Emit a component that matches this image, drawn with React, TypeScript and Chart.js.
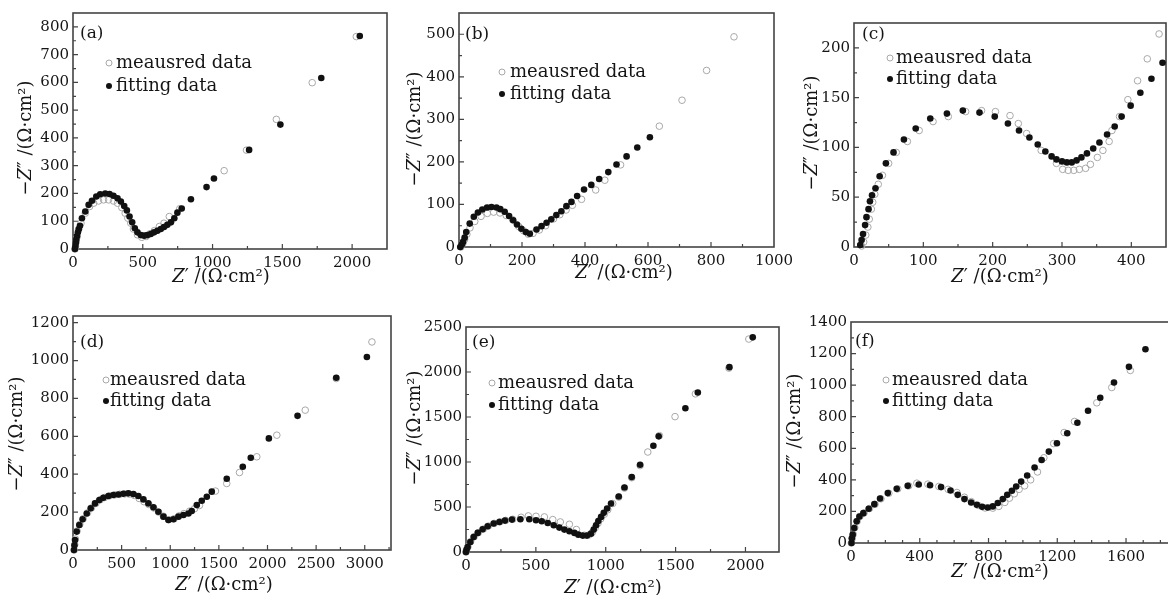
import React, { useEffect, useRef } from 'react';
import { Chart, registerables } from 'chart.js';
Chart.register(...registerables);

// ---------- data (Z' , -Z'') ----------
const aFitX = [14, 17, 20, 24, 29, 35, 42, 50, 64, 88, 112, 136, 167, 195, 231, 262, 290, 319, 343, 367, 386, 405, 424, 443, 462, 486, 510, 533, 557, 581, 605, 629, 652, 676, 702, 726, 748, 779, 845, 957, 1010, 1262, 1486, 1779, 2055];
const aFitY = [0, 10, 22, 34, 47, 60, 72, 84, 111, 135, 159, 174, 189, 197, 200, 198, 192, 183, 171, 155, 139, 117, 96, 75, 60, 50, 48, 50, 54, 60, 66, 72, 79, 87, 96, 111, 131, 146, 179, 223, 254, 357, 448, 616, 767];
const aMeasX = [14, 18, 23, 30, 40, 57, 88, 119, 148, 183, 219, 255, 290, 319, 350, 374, 393, 414, 433, 462, 493, 524, 552, 583, 619, 652, 690, 765, 1083, 1243, 1457, 1714, 2030];
const aMeasY = [0, 10, 25, 45, 70, 93, 129, 153, 165, 173, 177, 177, 173, 165, 149, 129, 111, 93, 72, 51, 42, 45, 55, 66, 81, 93, 117, 145, 282, 356, 467, 599, 765];

const bFitX = [4, 9, 13, 18, 23, 34, 47, 60, 74, 89, 103, 119, 131, 145, 159, 172, 184, 198, 212, 225, 246, 262, 278, 293, 309, 325, 341, 357, 375, 397, 420, 445, 474, 500, 532, 566, 606];
const bFitY = [0, 6, 12, 22, 35, 55, 71, 81, 88, 93, 94, 93, 89, 83, 73, 63, 53, 43, 35, 31, 41, 49, 57, 65, 75, 84, 96, 106, 120, 135, 146, 160, 176, 194, 213, 234, 258];
const bMeasX = [6, 12, 18, 25, 35, 50, 70, 90, 110, 130, 150, 170, 190, 205, 220, 235, 255, 275, 300, 320, 340, 360, 389, 434, 463, 513, 636, 708, 786, 873];
const bMeasY = [0, 8, 18, 30, 45, 60, 72, 79, 82, 80, 74, 64, 48, 38, 30, 32, 40, 50, 66, 76, 87, 98, 112, 134, 157, 193, 284, 345, 415, 494];

const cFitX = [9, 11, 13, 16, 18, 21, 23, 26, 31, 37, 46, 57, 72, 89, 110, 134, 157, 181, 203, 222, 238, 253, 265, 276, 285, 292, 300, 307, 314, 321, 328, 336, 345, 354, 365, 376, 386, 399, 413, 429, 445];
const cFitY = [2, 7, 13, 22, 30, 38, 46, 52, 59, 71, 84, 95, 108, 119, 129, 134, 137, 135, 131, 124, 117, 110, 103, 96, 91, 88, 86, 85, 85, 87, 90, 94, 99, 105, 113, 121, 131, 142, 155, 169, 185];
const cMeasX = [11, 14, 17, 20, 22, 25, 27, 30, 35, 41, 50, 61, 77, 94, 114, 136, 161, 184, 204, 225, 237, 249, 270, 292, 301, 309, 317, 325, 334, 341, 351, 359, 368, 372, 383, 395, 409, 423, 440];
const cMeasY = [1, 5, 12, 20, 28, 38, 45, 53, 63, 72, 84, 95, 106, 117, 126, 131, 136, 137, 136, 132, 124, 114, 97, 84, 78, 77, 77, 78, 79, 83, 90, 97, 106, 117, 131, 148, 167, 189, 214];

const dFitX = [10, 15, 21, 38, 65, 99, 141, 182, 226, 271, 312, 364, 415, 467, 518, 569, 621, 672, 724, 775, 827, 878, 930, 981, 1033, 1084, 1136, 1187, 1221, 1273, 1324, 1376, 1427, 1581, 1746, 1828, 2014, 2309, 2707, 3022];
const dFitY = [0, 25, 53, 97, 132, 162, 193, 220, 246, 264, 276, 285, 290, 293, 297, 299, 295, 285, 267, 246, 225, 202, 176, 158, 162, 176, 185, 193, 206, 237, 260, 281, 308, 376, 439, 487, 589, 708, 909, 1019];
const dMeasX = [12, 18, 25, 42, 70, 105, 150, 190, 235, 280, 325, 375, 430, 480, 530, 580, 630, 680, 730, 780, 830, 880, 930, 985, 1040, 1090, 1140, 1200, 1250, 1300, 1465, 1581, 1712, 1890, 2096, 2388, 2707, 3074];
const dMeasY = [0, 28, 58, 100, 135, 165, 196, 222, 246, 265, 277, 286, 291, 294, 296, 295, 288, 272, 255, 240, 222, 200, 178, 160, 165, 180, 192, 205, 218, 235, 311, 351, 409, 492, 606, 738, 905, 1098];

const eFitX = [0, 4, 12, 31, 55, 84, 119, 155, 198, 239, 279, 329, 389, 453, 501, 542, 585, 628, 668, 704, 740, 776, 804, 835, 866, 895, 914, 931, 947, 967, 986, 1010, 1038, 1093, 1134, 1186, 1246, 1341, 1379, 1570, 1659, 1885, 2052];
const eFitY = [0, 25, 56, 111, 167, 212, 253, 286, 316, 334, 349, 360, 364, 364, 353, 342, 323, 297, 271, 249, 230, 212, 193, 182, 182, 204, 249, 297, 345, 390, 435, 483, 539, 617, 717, 832, 970, 1181, 1285, 1597, 1772, 2054, 2385];
const eMeasX = [0, 5, 14, 33, 58, 88, 124, 160, 202, 243, 284, 335, 394, 446, 501, 561, 621, 675, 740, 790, 847, 880, 905, 925, 945, 965, 990, 1015, 1050, 1093, 1134, 1186, 1246, 1301, 1384, 1496, 1642, 1881, 2024];
const eMeasY = [0, 27, 58, 115, 170, 215, 255, 288, 318, 336, 351, 364, 386, 401, 397, 390, 360, 334, 308, 250, 186, 190, 220, 270, 320, 370, 420, 470, 539, 610, 710, 825, 960, 1111, 1293, 1504, 1757, 2043, 2366];

const fFitX = [3, 5, 10, 19, 33, 49, 72, 103, 136, 169, 214, 266, 330, 394, 460, 524, 579, 621, 660, 699, 732, 763, 796, 825, 854, 883, 909, 936, 961, 990, 1025, 1068, 1109, 1151, 1198, 1258, 1317, 1379, 1450, 1530, 1617, 1713];
const fFitY = [0, 30, 53, 95, 137, 168, 189, 217, 246, 282, 316, 343, 362, 371, 366, 354, 333, 305, 278, 257, 242, 229, 225, 232, 253, 278, 305, 331, 358, 389, 428, 478, 526, 579, 632, 695, 762, 838, 920, 1017, 1116, 1227];
const fMeasX = [2, 7, 13, 22, 36, 52, 76, 107, 140, 174, 220, 272, 336, 383, 447, 511, 565, 616, 660, 700, 740, 780, 825, 860, 895, 922, 950, 978, 1010, 1045, 1085, 1122, 1179, 1240, 1300, 1430, 1517, 1625];
const fMeasY = [0, 28, 55, 97, 138, 168, 190, 218, 245, 280, 315, 343, 362, 379, 373, 358, 340, 320, 290, 262, 238, 222, 221, 232, 257, 284, 312, 340, 362, 400, 450, 540, 630, 700, 770, 888, 985, 1093];

// ---------- tick labels ----------
const aXTicks = [0, 500, 1000, 1500, 2000];
const aYTicks = [0, 100, 200, 300, 400, 500, 600, 700, 800];
const bXTicks = [0, 200, 400, 600, 800, 1000];
const bYTicks = [0, 100, 200, 300, 400, 500];
const cXTicks = [0, 100, 200, 300, 400];
const cYTicks = [0, 50, 100, 150, 200];
const dXTicks = [0, 500, 1000, 1500, 2000, 2500, 3000];
const dYTicks = [0, 200, 400, 600, 800, 1000, 1200];
const eXTicks = [0, 500, 1000, 1500, 2000];
const eYTicks = [0, 500, 1000, 1500, 2000, 2500];
const fXTicks = [0, 400, 800, 1200, 1600];
const fYTicks = [0, 200, 400, 600, 800, 1000, 1200, 1400];

const legendMeasured = 'meausred data';
const legendFitting = 'fitting data';

const FONT = '"DejaVu Serif", "Liberation Serif", serif';
const PAD_L = 70, PAD_T = 15, PAD_R = 30, PAD_B = 48;

type Cfg = {
  letter: string; l: number; t: number; r: number; b: number;
  xMax: number; yMax: number; xTicks: number[]; yTicks: number[];
  xMinor: number; yMinor: number;
  fitX: number[]; fitY: number[]; measX: number[]; measY: number[];
  lp: [number, number]; mx: number; tx: number; rows: [number, number];
  xt: [number, number]; yt: [number, number];
};

const panels: Cfg[] = [
  { letter: '(a)', l: 73, t: 13, r: 387, b: 249, xMax: 2250, yMax: 850, xTicks: aXTicks, yTicks: aYTicks, xMinor: 250, yMinor: 50,
    fitX: aFitX, fitY: aFitY, measX: aMeasX, measY: aMeasY, lp: [7, 21], mx: 36, tx: 43, rows: [50, 73], xt: [148, 28], yt: [-47, 125] },
  { letter: '(b)', l: 459, t: 13, r: 774, b: 247, xMax: 1000, yMax: 550, xTicks: bXTicks, yTicks: bYTicks, xMinor: 100, yMinor: 50,
    fitX: bFitX, fitY: bFitY, measX: bMeasX, measY: bMeasY, lp: [6, 22], mx: 43, tx: 51, rows: [59, 81], xt: [165, 26], yt: [-44, 116] },
  { letter: '(c)', l: 854, t: 23, r: 1166, b: 247, xMax: 450, yMax: 225, xTicks: cXTicks, yTicks: cYTicks, xMinor: 50, yMinor: 25,
    fitX: cFitX, fitY: cFitY, measX: cMeasX, measY: cMeasY, lp: [8, 12], mx: 36, tx: 42, rows: [35, 56], xt: [146, 30], yt: [-42, 110] },
  { letter: '(d)', l: 73, t: 316, r: 391, b: 550, xMax: 3270, yMax: 1235, xTicks: dXTicks, yTicks: dYTicks, xMinor: 250, yMinor: 100,
    fitX: dFitX, fitY: dFitY, measX: dMeasX, measY: dMeasY, lp: [7, 27], mx: 33, tx: 37, rows: [64, 85], xt: [151, 35], yt: [-56, 118] },
  { letter: '(e)', l: 466, t: 327, r: 779, b: 552, xMax: 2240, yMax: 2500, xTicks: eXTicks, yTicks: eYTicks, xMinor: 250, yMinor: 250,
    fitX: eFitX, fitY: eFitY, measX: eMeasX, measY: eMeasY, lp: [6, 16], mx: 26, tx: 32, rows: [56, 78], xt: [147, 36], yt: [-51, 101] },
  { letter: '(f)', l: 851, t: 322, r: 1169, b: 543, xMax: 1850, yMax: 1400, xTicks: fXTicks, yTicks: fYTicks, xMinor: 100, yMinor: 100,
    fitX: fFitX, fitY: fFitY, measX: fMeasX, measY: fMeasY, lp: [4, 20], mx: 35, tx: 41, rows: [58, 79], xt: [149, 29], yt: [-56, 109] },
];

function zip(xs: number[], ys: number[]) {
  return xs.map((x, i) => ({ x, y: ys[i] }));
}

function drawRich(ctx: CanvasRenderingContext2D, parts: [string, boolean][], cx: number, cy: number, size: number) {
  const widths = parts.map(([t, it]) => {
    ctx.font = `${it ? 'italic ' : ''}${size}px ${FONT}`;
    return ctx.measureText(t).width;
  });
  const total = widths.reduce((s, w) => s + w, 0);
  let x = cx - total / 2;
  ctx.textAlign = 'left';
  ctx.textBaseline = 'middle';
  parts.forEach(([t, it], i) => {
    ctx.font = `${it ? 'italic ' : ''}${size}px ${FONT}`;
    ctx.fillText(t, x, cy);
    x += widths[i];
  });
}

function makeDecor(cfg: Cfg) {
  return {
    id: 'decor',
    beforeDatasetsDraw(chart: any) {
      const { ctx, chartArea: a } = chart;
      const xs = chart.scales.x, ys = chart.scales.y;
      ctx.save();
      ctx.strokeStyle = '#444';
      ctx.lineWidth = 1.2;
      ctx.beginPath();
      for (let v = 0; v <= cfg.xMax + 1e-6; v += cfg.xMinor) {
        const major = cfg.xTicks.includes(v);
        const p = xs.getPixelForValue(v);
        if (p <= a.left + 1 || p >= a.right - 1) continue;
        ctx.moveTo(p, a.bottom);
        ctx.lineTo(p, a.bottom - (major ? 5 : 3));
      }
      for (let v = 0; v <= cfg.yMax + 1e-6; v += cfg.yMinor) {
        const major = cfg.yTicks.includes(v);
        const p = ys.getPixelForValue(v);
        if (p >= a.bottom - 1 || p <= a.top + 1) continue;
        ctx.moveTo(a.left, p);
        ctx.lineTo(a.left + (major ? 5 : 3), p);
      }
      ctx.stroke();
      ctx.lineWidth = 1.6;
      ctx.strokeRect(a.left, a.top, a.right - a.left, a.bottom - a.top);
      ctx.restore();
    },
    afterDraw(chart: any) {
      const { ctx, chartArea: a } = chart;
      ctx.save();
      ctx.fillStyle = '#151515';
      ctx.font = `17px ${FONT}`;
      ctx.textAlign = 'left';
      ctx.textBaseline = 'middle';
      ctx.fillText(cfg.letter, a.left + cfg.lp[0], a.top + cfg.lp[1]);
      const rowsTxt: [string, boolean][] = [[legendMeasured, false], [legendFitting, true]];
      rowsTxt.forEach(([txt, filled], i) => {
        const y = a.top + cfg.rows[i];
        ctx.beginPath();
        ctx.arc(a.left + cfg.mx, y, 3, 0, Math.PI * 2);
        if (filled) { ctx.fillStyle = '#111'; ctx.fill(); }
        else { ctx.strokeStyle = '#a8a8a8'; ctx.lineWidth = 1; ctx.stroke(); }
        ctx.fillStyle = '#151515';
        ctx.font = `18px ${FONT}`;
        ctx.textAlign = 'left';
        ctx.textBaseline = 'middle';
        ctx.fillText(txt, a.left + cfg.tx, y);
      });
      ctx.fillStyle = '#151515';
      drawRich(ctx, [['Z', true], ['′ /(Ω·cm²)', false]], a.left + cfg.xt[0], a.bottom + cfg.xt[1], 18);
      ctx.translate(a.left + cfg.yt[0], a.top + cfg.yt[1]);
      ctx.rotate(-Math.PI / 2);
      drawRich(ctx, [['−', false], ['Z', true], ['″ /(Ω·cm²)', false]], 0, 0, 18);
      ctx.restore();
    },
  };
}

function Panel({ cfg }: { cfg: Cfg }) {
  const ref = useRef<HTMLCanvasElement>(null);
  const w = cfg.r - cfg.l + PAD_L + PAD_R;
  const h = cfg.b - cfg.t + PAD_T + PAD_B;
  useEffect(() => {
    const tickFont = { family: FONT, size: 15 };
    const chart = new Chart(ref.current!, {
      type: 'scatter',
      data: {
        datasets: [
          { label: legendFitting, data: zip(cfg.fitX, cfg.fitY), pointRadius: 3.3, pointHoverRadius: 3.3,
            backgroundColor: '#111', borderColor: '#111', borderWidth: 0, clip: false } as any,
          { label: legendMeasured, data: zip(cfg.measX, cfg.measY), pointRadius: 3.3, pointHoverRadius: 3.3,
            backgroundColor: 'rgba(255,255,255,0)', borderColor: '#a8a8a8', borderWidth: 1, clip: false } as any,
        ],
      },
      options: {
        responsive: false,
        animation: false,
        events: [],
        layout: { padding: { left: 0, top: PAD_T, right: PAD_R, bottom: 0 } },
        plugins: { legend: { display: false }, tooltip: { enabled: false } },
        scales: {
          x: {
            type: 'linear', min: 0, max: cfg.xMax,
            grid: { display: false, drawTicks: false },
            border: { display: false },
            ticks: { autoSkip: false, maxRotation: 0, padding: 5, color: '#151515', font: tickFont, callback: (v: any) => String(v) },
            afterBuildTicks: (s: any) => { s.ticks = cfg.xTicks.map((v) => ({ value: v })); },
            afterFit: (s: any) => { s.height = PAD_B; s.paddingLeft = 0; s.paddingRight = 0; },
          },
          y: {
            type: 'linear', min: 0, max: cfg.yMax,
            grid: { display: false, drawTicks: false },
            border: { display: false },
            ticks: { autoSkip: false, padding: 4, color: '#151515', font: tickFont, callback: (v: any) => String(v) },
            afterBuildTicks: (s: any) => { s.ticks = cfg.yTicks.map((v) => ({ value: v })); },
            afterFit: (s: any) => { s.width = PAD_L; s.paddingTop = 0; s.paddingBottom = 0; },
          },
        },
      } as any,
      plugins: [makeDecor(cfg)],
    });
    return () => chart.destroy();
  }, []);
  return (
    <canvas
      ref={ref}
      width={w}
      height={h}
      style={{ position: 'absolute', left: cfg.l - PAD_L, top: cfg.t - PAD_T, width: w, height: h }}
    />
  );
}

export default function App() {
  return (
    <div style={{ position: 'absolute', left: 0, top: 0, width: 1168, height: 595, overflow: 'hidden', background: '#fff' }}>
      {panels.map((p) => (
        <Panel key={p.letter} cfg={p} />
      ))}
    </div>
  );
}
